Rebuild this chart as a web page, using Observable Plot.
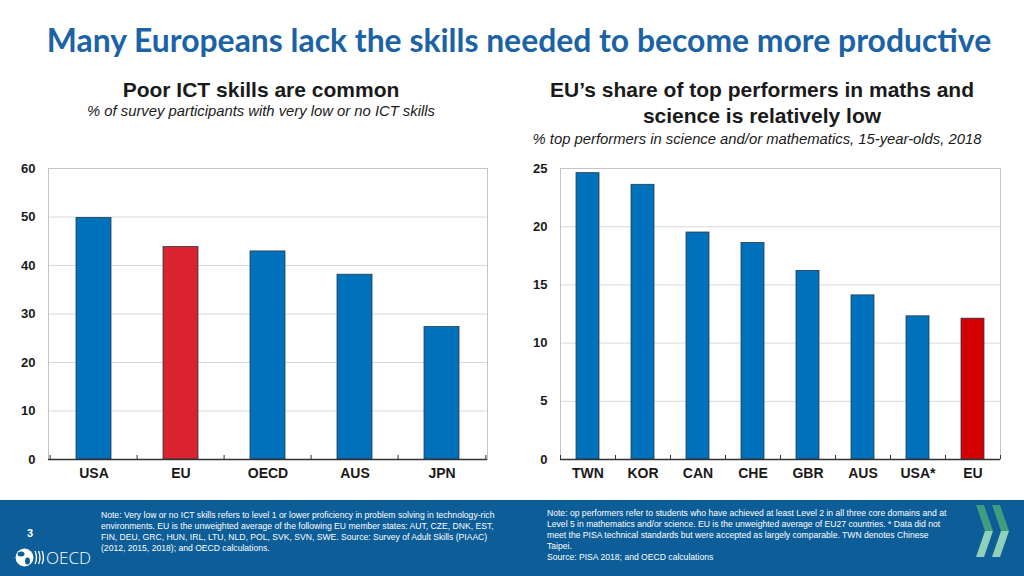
<!DOCTYPE html>
<html>
<head>
<meta charset="utf-8">
<script src="https://cdn.jsdelivr.net/npm/d3@7"></script>
<script src="https://cdn.jsdelivr.net/npm/@observablehq/plot@0.6"></script>
<style>
  html, body { margin:0; padding:0; background:#fff; }
  #page { position:relative; width:1024px; height:576px; overflow:hidden; background:#fff; font-family:"Liberation Sans", Arial, sans-serif; }
  .abs { position:absolute; }
  #title { left:7px; width:1024px; top:23px; text-align:center; font-family:Lato, "Open Sans", sans-serif; font-weight:700; font-size:28px; color:#1b63a5; line-height:34px; white-space:nowrap; }
  .h2 { font-weight:bold; font-size:21px; color:#1a1a1a; text-align:center; line-height:26px; white-space:nowrap; }
  .sub { font-style:italic; font-size:14.8px; color:#1a1a1a; text-align:center; line-height:16px; white-space:nowrap; }
  #footer { left:0; top:500px; width:1024px; height:76px; background:#0c5d98; }
  .note { color:#fff; font-size:8.6px; line-height:11px; white-space:nowrap; }
  .chart { top:160px; }
  .chart svg text { fill:#1a1a1a; }
  g[aria-label^="x-axis"] text { font-size:14px; }
</style>
</head>
<body>
<div id="page">
  <div id="title" class="abs">Many Europeans lack the skills needed to become more productive</div>

  <div class="abs h2" style="left:61px; width:400px; top:77px;">Poor ICT skills are common</div>
  <div class="abs sub" style="left:61px; width:400px; top:103px;">% of survey participants with very low or no ICT skills</div>

  <div class="abs h2" style="left:512px; width:500px; top:77px;">EU’s share of top performers in maths and<br>science is relatively low</div>
  <div class="abs sub" style="left:507px; width:500px; top:131px;">% top performers in science and/or mathematics, 15-year-olds, 2018</div>

  <div id="left" class="abs chart" style="left:0px;"></div>
  <div id="right" class="abs chart" style="left:512px;"></div>

  <div id="footer" class="abs"></div>
  <div class="abs note" style="left:101px; top:510px;">Note: Very low or no ICT skills refers to level 1 or lower proficiency in problem solving in technology-rich<br>environments. EU is the unweighted average of the following EU member states: AUT, CZE, DNK, EST,<br>FIN, DEU, GRC, HUN, IRL, LTU, NLD, POL, SVK, SVN, SWE. Source: Survey of Adult Skills (PIAAC)<br>(2012, 2015, 2018); and OECD calculations.</div>
  <div class="abs note" style="left:547px; top:508px;">Note: op performers refer to students who have achieved at least Level 2 in all three core domains and at<br>Level 5 in mathematics and/or science. EU is the unweighted average of EU27 countries. * Data did not<br>meet the PISA technical standards but were accepted as largely comparable. TWN denotes Chinese<br>Taipei.<br>Source: PISA 2018; and OECD calculations</div>
  <div class="abs" style="left:24px; top:527px; width:12px; text-align:center; color:#fff; font-weight:bold; font-size:11px;">3</div>

  <svg class="abs" style="left:0; top:0;" width="1024" height="576" viewBox="0 0 1024 576" pointer-events="none">
    <!-- OECD logo -->
    <circle cx="24.5" cy="557.5" r="9" fill="#fff"/>
    <ellipse cx="21" cy="554" rx="3.5" ry="2.5" fill="#0c5d98"/>
    <ellipse cx="27.5" cy="561" rx="2.5" ry="3.5" fill="#0c5d98"/>
    <path d="M35,551 Q38,557.5 35,564 M38.5,551 Q41.5,557.5 38.5,564 M42,551 Q45,557.5 42,564" stroke="#fff" stroke-width="1.3" fill="none"/>
    <text x="46" y="564" fill="#fff" font-family="'Open Sans', 'Liberation Sans', sans-serif" font-weight="300" font-size="17">OECD</text>
    <!-- chevrons -->
    <polygon points="976,505 984,505 993,531 985,531" fill="#3f9c7e"/>
    <polygon points="985,531 993,531 984,557 976,557" fill="#8fd0bb"/>
    <polygon points="992,505 1000,505 1009,531 1001,531" fill="#3f9c7e"/>
    <polygon points="1001,531 1009,531 1000,557 992,557" fill="#8fd0bb"/>
  </svg>
</div>
<script>
// ---- data ----
const ictCategories = ["USA", "EU", "OECD", "AUS", "JPN"];
const ictValues = [49.8, 43.8, 42.9, 38.1, 27.3];
const ictTicks = [0, 10, 20, 30, 40, 50, 60];

const pisaCategories = ["TWN", "KOR", "CAN", "CHE", "GBR", "AUS", "USA*", "EU"];
const pisaValues = [24.6, 23.6, 19.5, 18.6, 16.2, 14.1, 12.3, 12.1];
const pisaTicks = [0, 5, 10, 15, 20, 25];

const BLUE = "#0072bc";

function makeChart({cats, vals, ticks, padding, red, marginRight}) {
  const width = 500, height = 330, marginLeft = 48, marginTop = 8, marginBottom = 31;
  const plotW = width - marginLeft - marginRight;
  const plotH = height - marginTop - marginBottom;
  const step = plotW / cats.length;
  const data = cats.map((c, i) => ({cat: c, val: vals[i]}));
  return Plot.plot({
    width, height, marginLeft, marginRight, marginTop, marginBottom,
    style: {fontFamily: "'Liberation Sans Narrow', 'Arial Narrow', 'Liberation Sans', Arial, sans-serif", fontSize: "13px", fontWeight: "bold", color: "#1a1a1a", background: "transparent", overflow: "visible"},
    x: {domain: cats, paddingInner: padding, paddingOuter: padding / 2, label: null, tickSize: 0, tickPadding: 9},
    y: {domain: [ticks[0], ticks[ticks.length - 1]], ticks: ticks, label: null, tickSize: 0, tickPadding: 13},
    marks: [
      Plot.ruleY(ticks.filter(t => t > 0), {stroke: "#d9d9d9"}),
      Plot.frame({stroke: "#c4c4c4"}),
      Plot.barY(data, {x: "cat", y: "val", fill: d => d.cat === "EU" ? red : BLUE, stroke: "#26394d", strokeWidth: 0.8}),
      Plot.ruleY([0], {stroke: "#333", strokeWidth: 1.5}),
      Plot.ruleX(cats, {x: d => d, dx: -step / 2, insetTop: plotH - 4, stroke: "#333"}),
      Plot.ruleX([cats[cats.length - 1]], {x: d => d, dx: step / 2, insetTop: plotH - 4, stroke: "#333"})
    ]
  });
}

document.getElementById("left").appendChild(makeChart({cats: ictCategories, vals: ictValues, ticks: ictTicks, padding: 0.6, red: "#d9232e", marginRight: 13}));
document.getElementById("right").appendChild(makeChart({cats: pisaCategories, vals: pisaValues, ticks: pisaTicks, padding: 0.59, red: "#d40000", marginRight: 12}));

// fit the main title to the reference width by adjusting its font size
const t = document.getElementById("title");
const span = document.createElement("span");
span.textContent = t.textContent; t.textContent = ""; t.appendChild(span);
const w = span.getBoundingClientRect().width;
t.style.fontSize = (28 * 945 / w) + "px";
</script>
</body>
</html>
